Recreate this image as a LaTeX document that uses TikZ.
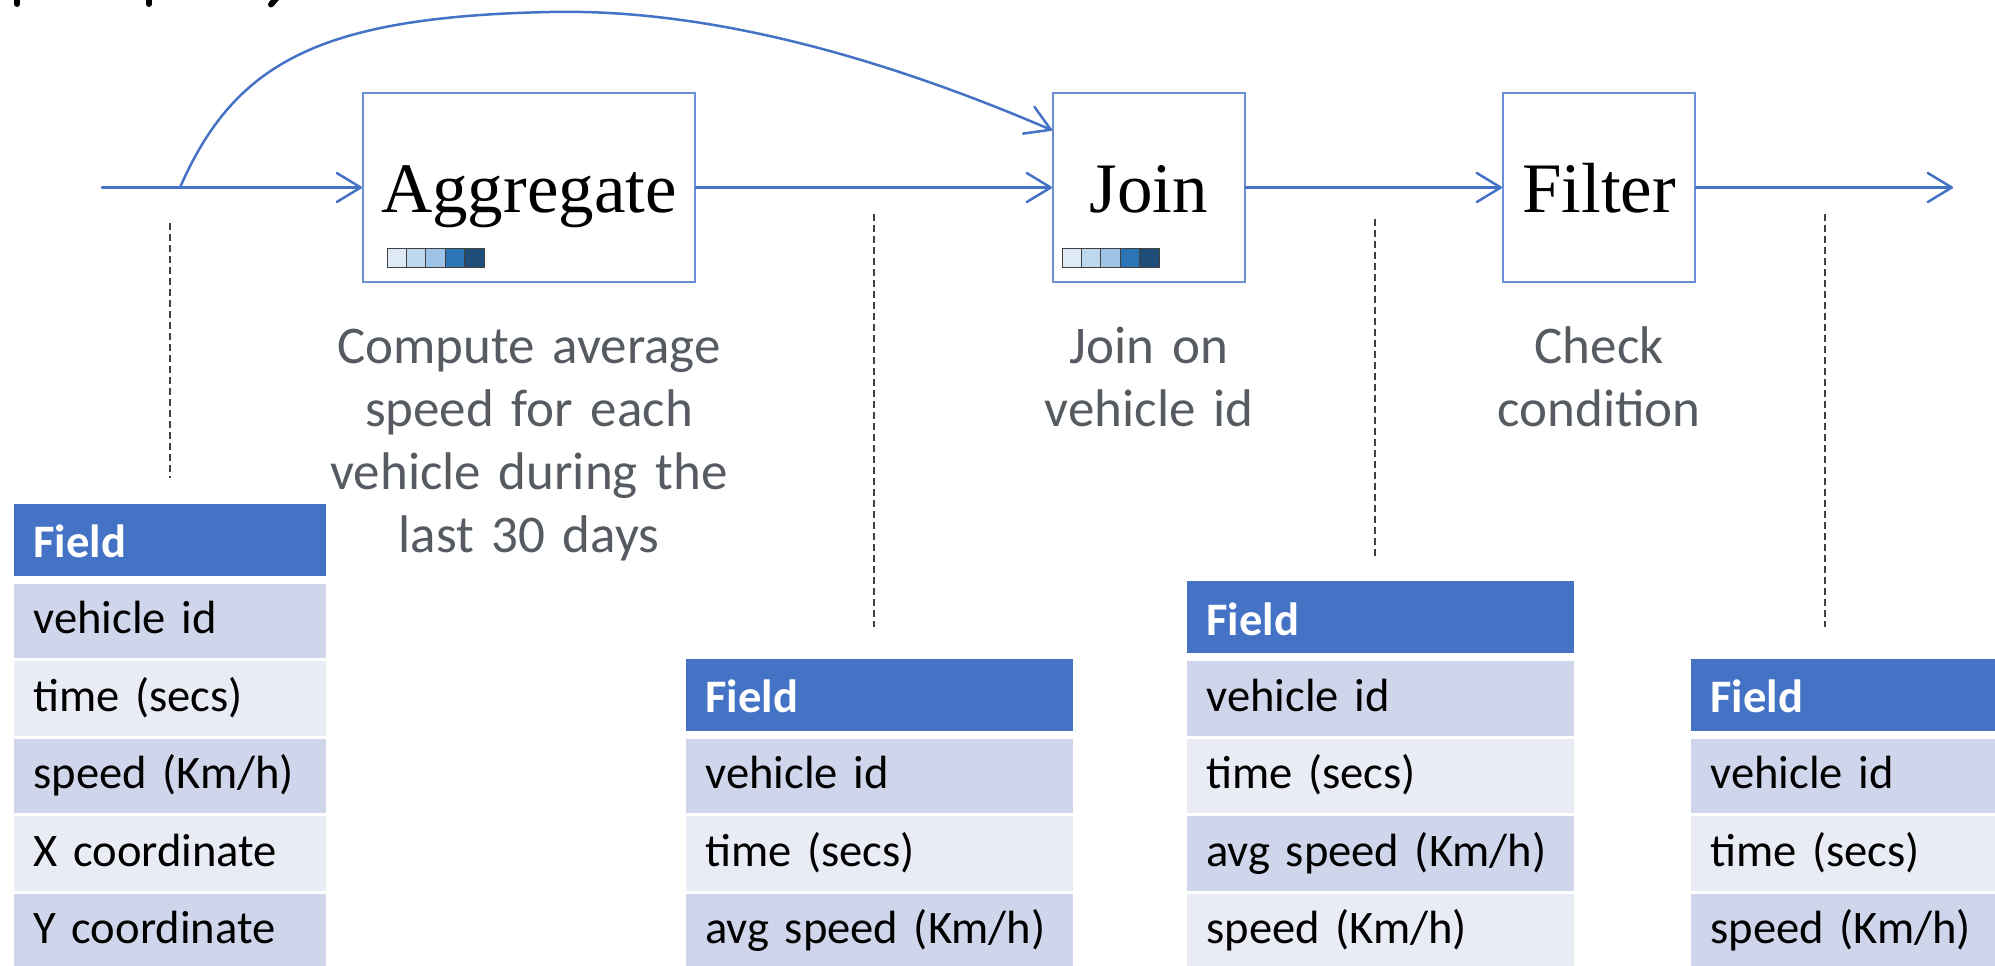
\documentclass[tikz,border=0pt]{standalone}
\usepackage{fontspec}
\setmainfont{Carlito}
\newfontfamily\opfont{Liberation Serif}
\usetikzlibrary{arrows.meta,calc}

\definecolor{flow}{HTML}{4472C4}
\definecolor{opedge}{HTML}{6A8FD4}
\definecolor{hdr}{HTML}{4472C4}
\definecolor{rowdark}{HTML}{CFD5EA}
\definecolor{rowlight}{HTML}{E9EBF5}
\definecolor{note}{HTML}{555B61}
\definecolor{tap}{HTML}{404040}
\definecolor{heatA}{HTML}{DEEBF7}
\definecolor{heatB}{HTML}{BDD7EE}
\definecolor{heatC}{HTML}{9DC3E6}
\definecolor{heatD}{HTML}{2E75B6}
\definecolor{heatE}{HTML}{1F4E79}

\tikzset{
  flowline/.style={draw=flow, line width=1.25pt, line cap=round,
    -{Straight Barb[length=12pt,width=14.5pt,round]}},
  opbox/.style={draw=opedge, line width=1pt, inner sep=0pt, align=center,
    font=\opfont\fontsize{35.5pt}{40pt}\selectfont,
    text height=59.5pt, text depth=35pt},
  notetext/.style={anchor=base, inner sep=0pt, align=center, text width=220pt,
    text=note, font=\fontsize{26.5pt}{31.5pt}\selectfont},
  tapline/.style={draw=tap, line width=0.75pt, dash pattern=on 3.5pt off 2pt},
  hdrcell/.style={anchor=north west, fill=hdr, text=white, inner xsep=9.5pt,
    inner ysep=0pt, text height=27pt, text depth=9pt, align=left,
    font=\bfseries\fontsize{23.3pt}{28pt}\selectfont},
  rowcell/.style={anchor=north west, inner xsep=9.5pt, inner ysep=0pt,
    text height=25pt, text depth=12.25pt, align=left,
    font=\fontsize{23.3pt}{28pt}\selectfont},
  heatcell/.style={draw=tap, line width=0.5pt}
}

% table of fields: name, left x, text width, top of first row, row labels
\newcommand{\fieldtable}[5]{%
  \node[hdrcell, text width=#3] (#1-h) at (#2,#4-80) {Field};
  \foreach \lbl [count=\i] in {#5}{%
    \pgfmathsetmacro{\ytop}{#4+77.4*(\i-1)}%
    \ifodd\i \def\rowfill{rowdark}\else\def\rowfill{rowlight}\fi
    \node[rowcell, fill=\rowfill, text width=#3] (#1-\i) at (#2,\ytop) {\lbl};
  }%
}

% five-step colour strip below an operator name
\newcommand{\heatstrip}[1]{%
  \foreach \c [count=\k from 0] in {heatA,heatB,heatC,heatD,heatE}{%
    \filldraw[heatcell, fill=\c] ($(#1)+(\k*19.4,0)$) rectangle ++(19.4,19);
  }%
}

\begin{document}
\begin{tikzpicture}[x=0.5pt, y=-0.5pt]
  \useasboundingbox (0,0) rectangle (1995,965);
  \clip (0,0) rectangle (1995,965);

  % lower ends of the heading letters above
  \draw[line width=3pt, line cap=round] (17,-6) -- (17,4);
  \draw[line width=3pt, line cap=round] (149,-6) -- (149,4);
  \draw[line width=3pt, line cap=round] (280,-6) -- (271,4.5);

  % operators
  \node[opbox, text width=166pt] (agg) at (529,187.5) {Aggregate};
  \node[opbox, text width=96pt] (join) at (1149,187.5) {Join};
  \node[opbox, text width=96pt] (filter) at (1599,187.5) {Filter};

  \coordinate (hA) at ($(agg.north west)+(25,156)$);
  \coordinate (hJ) at ($(join.north west)+(10,156)$);
  \heatstrip{hA}
  \heatstrip{hJ}

  % stream
  \coordinate (in) at (102,187.5);
  \coordinate (split) at (180,187.5);
  \coordinate (crest) at (549,12);
  \coordinate (out) at (1953,187.5);
  \draw[flowline] (in) -- (agg.west);
  \draw[flowline] (agg.east) -- (join.west);
  \draw[flowline] (join.east) -- (filter.west);
  \draw[flowline] (filter.east) -- (out);
  \draw[flowline] (split) .. controls (235,62) and (320,17) .. (crest)
    .. controls (720,8) and (900,65) .. ($(join.north west)!0.2!(join.south west)$);

  % operator descriptions
  \node[notetext] (aggnote) at ([yshift=-40pt]agg.south)
    {Compute average\\speed for each\\vehicle during the\\last 30 days};
  \node[notetext] (joinnote) at ([yshift=-40pt]join.south) {Join on\\vehicle id};
  \node[notetext] (filternote) at ([yshift=-40pt]filter.south) {Check\\condition};

  % schemas of the stream at each stage
  \fieldtable{src}{14}{137pt}{583.5}{vehicle id,time (secs),speed (Km/h),X coordinate,Y coordinate}
  \fieldtable{avg}{686}{174.5pt}{738.3}{vehicle id,time (secs),avg speed (Km/h)}
  \fieldtable{jnd}{1187}{174.5pt}{660.9}{vehicle id,time (secs),avg speed (Km/h),speed (Km/h)}
  \fieldtable{res}{1691}{174.5pt}{738.3}{vehicle id,time (secs),speed (Km/h)}

  % taps from the stream to the schemas
  \coordinate (t1a) at (170,223);  \coordinate (t1b) at (170,478);
  \coordinate (t2a) at (874,214);  \coordinate (t2b) at (874,627);
  \coordinate (t3a) at (1375,219); \coordinate (t3b) at (1375,556);
  \coordinate (t4a) at (1825,214); \coordinate (t4b) at (1825,627);
  \draw[tapline] (t1a) -- (t1b);
  \draw[tapline] (t2a) -- (t2b);
  \draw[tapline] (t3a) -- (t3b);
  \draw[tapline] (t4a) -- (t4b);
\end{tikzpicture}
\end{document}
